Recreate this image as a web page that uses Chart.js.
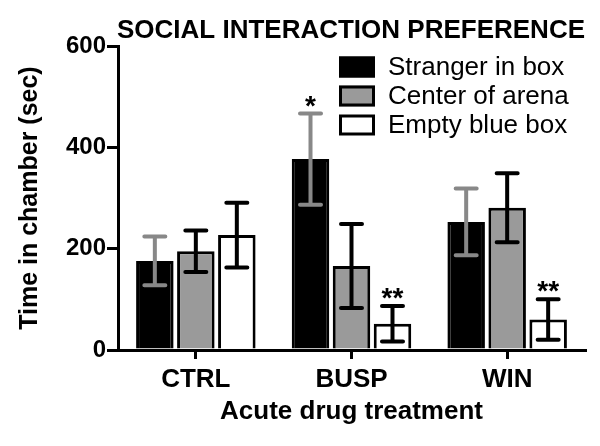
<!DOCTYPE html>
<html><head><meta charset="utf-8">
<script src="https://cdn.jsdelivr.net/npm/chart.js@4"></script>
<style>html,body{margin:0;padding:0;background:#fff;} canvas{display:block;}</style>
</head><body>
<canvas id="c" width="600" height="446"></canvas>
<script>
const categories = ['CTRL', 'BUSP', 'WIN'];
const seriesNames = ['Stranger in box', 'Center of arena', 'Empty blue box'];
const strangerMean = [176, 377, 253];
const strangerErr = [48, 90, 66];
const centerMean = [195, 166, 281];
const centerErr = [41, 83, 68];
const emptyMean = [227, 52, 60];
const emptyErr = [64, 35, 40];
const strangerSig = ['', '*', ''];
const centerSig = ['', '', ''];
const emptySig = ['', '**', '**'];
const yTickValues = [0, 200, 400, 600];

const FONT = '"Liberation Sans", Arial, Helvetica, sans-serif';

const errorBarPlugin = {
  id: 'errorBars',
  afterDatasetsDraw(chart) {
    const ctx = chart.ctx;
    const y = chart.scales.y;
    chart.data.datasets.forEach((ds, di) => {
      const meta = chart.getDatasetMeta(di);
      meta.data.forEach((el, i) => {
        const m = ds.data[i], e = ds.errors[i];
        const yt = y.getPixelForValue(m + e);
        const yb = y.getPixelForValue(m - e);
        const cap = 10.5;
        ctx.save();
        ctx.strokeStyle = ds.errorColor;
        ctx.lineWidth = 4;
        ctx.lineCap = 'round';
        ctx.beginPath();
        ctx.moveTo(el.x, yt); ctx.lineTo(el.x, yb);
        ctx.moveTo(el.x - cap, yt); ctx.lineTo(el.x + cap, yt);
        ctx.moveTo(el.x - cap, yb); ctx.lineTo(el.x + cap, yb);
        ctx.stroke();
        const s = ds.sig[i];
        if (s) {
          ctx.fillStyle = '#000';
          ctx.font = 'bold 28px ' + FONT;
          ctx.textAlign = 'center';
          ctx.textBaseline = 'alphabetic';
          ctx.fillText(s, el.x, yt + 1);
        }
        ctx.restore();
      });
    });
  }
};

const legendPlugin = {
  id: 'customLegend',
  afterDraw(chart) {
    const ctx = chart.ctx;
    const x0 = 339, y0 = 67, step = 29, bw = 36, bh = 21;
    chart.data.datasets.forEach((ds, i) => {
      const cy = y0 + i * step;
      ctx.save();
      ctx.fillStyle = ds.backgroundColor;
      ctx.fillRect(x0, cy - bh / 2, bw, bh);
      ctx.strokeStyle = '#000';
      ctx.lineWidth = 3;
      ctx.strokeRect(x0 + 1.5, cy - bh / 2 + 1.5, bw - 3, bh - 3);
      ctx.fillStyle = '#000';
      ctx.font = '26px ' + FONT;
      ctx.textAlign = 'left';
      ctx.textBaseline = 'middle';
      ctx.fillText(ds.label, 388, cy + 1);
      ctx.restore();
    });
  }
};

const mkDs = (label, data, errors, sig, bg, errColor) => ({
  label, data, errors, sig,
  backgroundColor: bg,
  borderColor: '#000',
  borderWidth: 3,
  errorColor: errColor,
  barPercentage: 0.915,
  categoryPercentage: 0.79
});

new Chart(document.getElementById('c'), {
  type: 'bar',
  data: {
    labels: categories,
    datasets: [
      mkDs(seriesNames[0], strangerMean, strangerErr, strangerSig, '#000000', '#888888'),
      mkDs(seriesNames[1], centerMean, centerErr, centerSig, '#9a9a9a', '#000000'),
      mkDs(seriesNames[2], emptyMean, emptyErr, emptySig, '#ffffff', '#000000')
    ]
  },
  options: {
    responsive: false,
    animation: false,
    layout: { padding: { left: 0, right: 15, top: 0, bottom: 0 } },
    plugins: {
      legend: { display: false },
      tooltip: { enabled: false },
      title: {
        display: true,
        text: 'SOCIAL INTERACTION PREFERENCE',
        align: 'end',
        color: '#000',
        font: { family: FONT, size: 26, weight: 'bold' },
        padding: { top: 15, bottom: 0 }
      }
    },
    scales: {
      x: {
        afterFit(s) { s.height = 96; },
        grid: { display: true, drawOnChartArea: false, drawTicks: true, tickLength: 9, offset: false, color: '#000', lineWidth: 3 },
        border: { display: true, color: '#000', width: 3 },
        ticks: { color: '#000', font: { family: FONT, size: 26, weight: 'bold' }, padding: 5 },
        title: { display: true, text: 'Acute drug treatment', color: '#000', font: { family: FONT, size: 26, weight: 'bold' }, padding: { top: 6, bottom: 19 } }
      },
      y: {
        min: 0, max: 600,
        afterFit(s) { s.width = 118; },
        afterBuildTicks(s) { s.ticks = yTickValues.map(v => ({ value: v })); },
        grid: { display: true, drawOnChartArea: false, drawTicks: true, tickLength: 11, color: '#000', lineWidth: 3 },
        border: { display: true, color: '#000', width: 3 },
        ticks: { color: '#000', font: { family: FONT, size: 24, weight: 'bold' }, padding: 1 },
        title: { display: true, text: 'Time in chamber (sec)', color: '#000', font: { family: FONT, size: 25, weight: 'bold' }, padding: { top: 15, bottom: 2 } }
      }
    }
  },
  plugins: [errorBarPlugin, legendPlugin]
});
</script>
</body></html>
